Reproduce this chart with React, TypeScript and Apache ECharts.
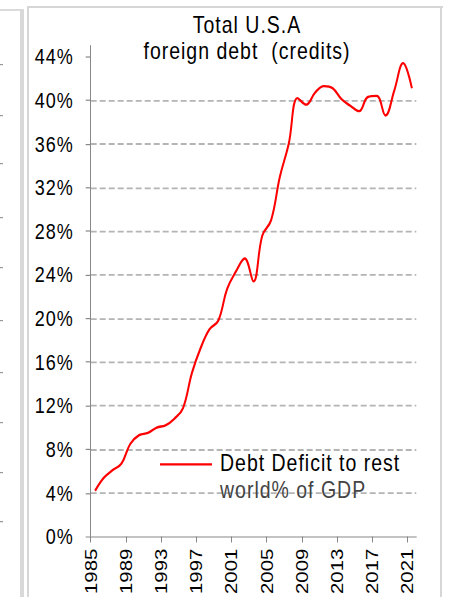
import React, { useEffect, useRef } from 'react';
import * as echarts from 'echarts';

// Annual observations (plotted at mid-year), % of GDP
const years = [
  1985, 1986, 1987, 1988, 1989, 1990, 1991, 1992, 1993, 1994,
  1995, 1996, 1997, 1998, 1999, 2000, 2001, 2002, 2003, 2004,
  2005, 2006, 2007, 2008, 2009, 2010, 2011, 2012, 2013, 2014,
  2015, 2016, 2017, 2018, 2019, 2020, 2021,
];
const debtPct = [
  4.2, 5.4, 6.1, 6.7, 8.5, 9.3, 9.5, 10.0, 10.2, 10.8,
  11.8, 15.0, 17.3, 19.0, 19.8, 22.7, 24.3, 25.5, 23.4, 27.6,
  29.0, 33.0, 36.0, 40.2, 39.6, 40.7, 41.3, 41.1, 40.1, 39.5,
  39.0, 40.3, 40.4, 38.6, 40.9, 43.4, 41.1,
];
const xTickYears = [1985, 1989, 1993, 1997, 2001, 2005, 2009, 2013, 2017, 2021];
const yTickPct = [0, 4, 8, 12, 16, 20, 24, 28, 32, 36, 40, 44];
const titleLines = ['Total U.S.A', 'foreign debt  (credits)'];
const seriesName = 'Debt Deficit to rest|world% of GDP';

const FONT = "'Liberation Sans', Arial, sans-serif";
const W = 450;
const H = 497.5;
const SY = 597 / H;

const leftMarks = [64, 115, 163, 217, 267, 320, 372, 422, 472, 521];

export default function App() {
  const ref = useRef<HTMLDivElement>(null);
  useEffect(() => {
    if (!ref.current) return;
    const chart = echarts.init(ref.current, null, { renderer: 'svg' });
    const frame: any[] = [
      { type: 'rect', shape: { x: 20, y: 7.5, width: 4, height: 500 }, style: { fill: '#d9d9d9' }, silent: true },
      { type: 'rect', shape: { x: 0, y: 7.5, width: 20, height: 1.6 }, style: { fill: '#d9d9d9' }, silent: true },
      { type: 'rect', shape: { x: 27, y: 5, width: 2, height: 500 }, style: { fill: '#d6d6d6' }, silent: true },
      { type: 'rect', shape: { x: 27, y: 5, width: 416, height: 1.7 }, style: { fill: '#d6d6d6' }, silent: true },
      { type: 'rect', shape: { x: 440, y: 5, width: 2, height: 500 }, style: { fill: '#d6d6d6' }, silent: true },
      ...leftMarks.map((m) => ({
        type: 'rect', shape: { x: 0, y: m / SY, width: 3, height: 1 }, style: { fill: '#999' }, silent: true,
      })),
    ];
    chart.setOption({
      animation: false,
      backgroundColor: '#ffffff',
      title: {
        text: titleLines.join('\n'),
        left: 247,
        top: 9.9,
        padding: 0,
        textAlign: 'center',
        textStyle: { fontSize: 19.5, fontWeight: 'normal', fontFamily: FONT, color: '#000', lineHeight: 22 },
      },
      legend: {
        left: 160,
        top: 354.5,
        padding: 0,
        icon: 'rect',
        itemWidth: 52,
        itemHeight: 2,
        selectedMode: false,
        formatter: (name: string) => {
          const [a, b] = name.split('|');
          return `{a|${a}}\n{b|${b}}`;
        },
        textStyle: {
          fontSize: 19.5,
          fontFamily: FONT,
          lineHeight: 22,
          padding: [21, 0, 0, 3],
          rich: {
            a: { fontSize: 19.5, fontFamily: FONT, color: '#000', lineHeight: 22 },
            b: { fontSize: 19.5, fontFamily: FONT, color: '#444', lineHeight: 22 },
          },
        },
      },
      grid: { left: 90.7, right: 33.7, top: 38.1, bottom: 50.4, containLabel: false },
      xAxis: {
        type: 'value',
        min: 1985,
        max: 2022,
        interval: 4,
        splitLine: { show: false },
        axisLine: { show: true, onZero: false, lineStyle: { color: '#888', width: 1 } },
        axisTick: { show: true, customValues: xTickYears, length: 5, lineStyle: { color: '#888' } },
        axisLabel: {
          customValues: xTickYears,
          rotate: 90,
          margin: 10,
          fontSize: 17,
          fontFamily: FONT,
          color: '#000',
          formatter: (v: number) => (xTickYears.includes(v) ? String(v) : ''),
        },
      },
      yAxis: {
        type: 'value',
        min: 0,
        max: 45,
        interval: 4,
        axisLine: { show: true, lineStyle: { color: '#888', width: 1 } },
        axisTick: { show: true, customValues: yTickPct, length: 5, lineStyle: { color: '#888' } },
        axisLabel: {
          customValues: yTickPct,
          margin: 17,
          fontSize: 18,
          fontFamily: FONT,
          color: '#000',
          formatter: (v: number) => (yTickPct.includes(v) ? `${v}%` : ''),
        },
        splitLine: {
          show: true,
          showMinLine: false,
          showMaxLine: false,
          lineStyle: { color: '#b4b4b4', width: 1.5, type: [6, 3] },
        },
      },
      graphic: frame,
      series: [
        {
          type: 'line',
          name: seriesName,
          data: years.map((y, i) => [y + 0.5, debtPct[i]]),
          smooth: 0.4,
          showSymbol: false,
          symbol: 'none',
          lineStyle: { color: '#ff0000', width: 2 },
          itemStyle: { color: '#ff0000' },
        },
      ],
    });
    return () => chart.dispose();
  }, []);
  return (
    <div className="chart-wrap" style={{ position: 'absolute', left: 0, top: 0, width: W, height: H, transform: `scaleY(${SY})`, transformOrigin: '0 0', background: '#fff' }}>
      <style>{`.chart-wrap svg text { letter-spacing: 1px; } .chart-wrap svg text[style*="17px"] { letter-spacing: 0; }`}</style>
      <div ref={ref} style={{ width: W, height: H }} />
    </div>
  );
}
